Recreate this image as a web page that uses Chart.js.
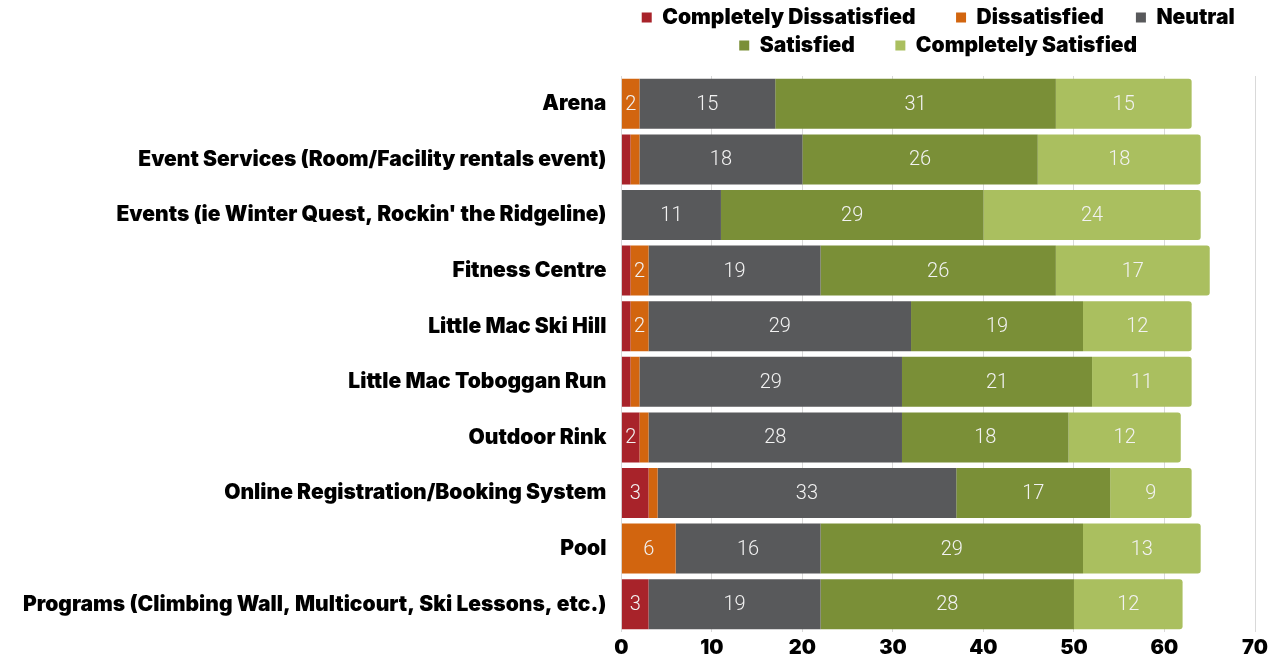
<!DOCTYPE html>
<html>
<head>
<meta charset="utf-8">
<script src="https://cdn.jsdelivr.net/npm/chart.js@4.4.0/dist/chart.umd.min.js"></script>
<style>
  body { margin: 0; background: #fff; }
  #wrap { width: 1281px; height: 664px; }
</style>
</head>
<body>
<div id="wrap"><canvas id="satChart" width="1281" height="664"></canvas></div>
<script>
const categories = [
  "Arena",
  "Event Services (Room/Facility rentals event)",
  "Events (ie Winter Quest, Rockin' the Ridgeline)",
  "Fitness Centre",
  "Little Mac Ski Hill",
  "Little Mac Toboggan Run",
  "Outdoor Rink",
  "Online Registration/Booking System",
  "Pool",
  "Programs (Climbing Wall, Multicourt, Ski Lessons, etc.)"
];

const seriesNames = ["Completely Dissatisfied", "Dissatisfied", "Neutral", "Satisfied", "Completely Satisfied"];
const seriesColors = ["#A8232A", "#D2650F", "#58595B", "#7A8F37", "#AABF5F"];

const completelyDissatisfied = [0, 1, 0, 1, 1, 1, 2, 3, 0, 3];
const dissatisfied = [2, 1, 0, 2, 2, 1, 1, 1, 6, 0];
const neutral = [15, 18, 11, 19, 29, 29, 28, 33, 16, 19];
const satisfied = [31, 26, 29, 26, 19, 21, 18.4, 17, 29, 28];
const completelySatisfied = [15, 18, 24, 17, 12, 11, 12.4, 9, 13, 12];

const xTicks = [0, 10, 20, 30, 40, 50, 60, 70];

Chart.defaults.font.family = "Inter";

const seriesData = [completelyDissatisfied, dissatisfied, neutral, satisfied, completelySatisfied];

// labels inside the bars, skipped for the thin ones
const barLabels = {
  id: "barLabels",
  afterDatasetsDraw(chart) {
    const ctx = chart.ctx;
    ctx.save();
    ctx.font = "300 20px Roboto";
    ctx.fillStyle = "#f2f2f2";
    ctx.textAlign = "center";
    ctx.textBaseline = "middle";
    chart.data.datasets.forEach((ds, i) => {
      chart.getDatasetMeta(i).data.forEach((bar, j) => {
        const v = ds.data[j];
        if (v < 2) return;
        const p = bar.getProps(["x", "y", "base"], true);
        ctx.fillText(Math.round(v), (p.x + p.base) / 2, p.y + 1);
      });
    });
    ctx.restore();
  }
};

// some room under the legend
const legendSpace = {
  id: "legendSpace",
  beforeInit(chart) {
    const fit = chart.legend.fit;
    chart.legend.fit = function () {
      fit.bind(chart.legend)();
      this.height += 10;
    };
  }
};

// extra space after some legend entries, like the original spacing
const legendGaps = ["        ", "      ", "", "        ", ""];

new Chart(document.getElementById("satChart"), {
  type: "bar",
  data: {
    labels: categories,
    datasets: seriesNames.map((name, i) => ({
      label: name,
      data: seriesData[i],
      backgroundColor: seriesColors[i],
      borderWidth: 0,
      borderRadius: 3,
      barPercentage: 0.9,
      categoryPercentage: 1.0
    }))
  },
  options: {
    indexAxis: "y",
    responsive: false,
    animation: false,
    layout: { padding: { left: 8, right: 26, top: 0, bottom: 0 } },
    plugins: {
      tooltip: { enabled: false },
      legend: {
        position: "top",
        fullSize: false,
        labels: {
          color: "#000",
          boxWidth: 10,
          boxHeight: 10,
          padding: 7,
          font: { size: 21, weight: "900" },
          generateLabels(chart) {
            const items = Chart.defaults.plugins.legend.labels.generateLabels(chart);
            items.forEach((it, i) => {
              it.text = it.text + legendGaps[i];
            });
            return items;
          }
        }
      }
    },
    scales: {
      x: {
        stacked: true,
        min: 0,
        max: 70,
        afterBuildTicks(axis) {
          axis.ticks = xTicks.map(v => ({ value: v }));
        },
        ticks: {
          color: "#000",
          padding: 4,
          font: { size: 20, weight: "900" }
        },
        grid: { color: "#d9d9d9", drawTicks: false },
        border: { display: false }
      },
      y: {
        stacked: true,
        ticks: {
          color: "#000",
          padding: 15,
          font: { size: 21, weight: "900" }
        },
        grid: { display: false, drawTicks: false },
        border: { display: false }
      }
    }
  },
  plugins: [barLabels, legendSpace]
});
</script>
</body>
</html>
